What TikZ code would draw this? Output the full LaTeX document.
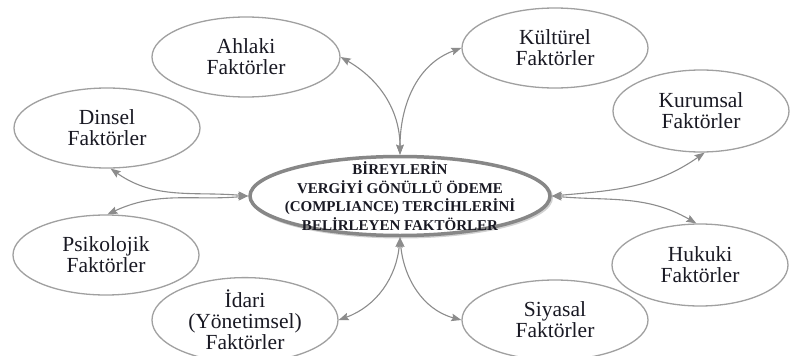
\documentclass[tikz,border=0pt]{standalone}
\usepackage{fontspec}
\setmainfont{Liberation Serif}
\usetikzlibrary{shapes.geometric,arrows.meta}
\definecolor{edgegray}{RGB}{160,160,160}
\definecolor{arrgray}{RGB}{140,140,140}
\definecolor{maingray}{RGB}{135,135,135}
\definecolor{txt}{RGB}{25,25,35}
\begin{document}
\begin{tikzpicture}[x=1pt,y=-1pt,
  factor/.style={ellipse, draw=edgegray, line width=1.3pt, fill=white, inner sep=0pt,
    align=center, text=txt, font=\fontsize{21.5}{21}\selectfont,
    minimum width=186pt, minimum height=80pt},
  mainnode/.style={ellipse, draw=maingray, line width=3.5pt, fill=white,
    inner xsep=-40pt, inner ysep=-10pt,
    align=center, text=txt, font=\bfseries\fontsize{15}{18.5}\selectfont,
    minimum width=300pt, minimum height=79pt},
  conn/.style={draw=arrgray, line width=1.1pt,
    {Stealth[length=10pt,width=7.5pt,inset=1.5pt]}-{Stealth[length=10pt,width=7.5pt,inset=1.5pt]}}
]
\useasboundingbox (0,0) rectangle (790,356);
\fill[white] (0,0) rectangle (790,356);

% shadow of main ellipse
\draw[gray!35, line width=3pt] (401.5,197.5) ellipse [x radius=150pt, y radius=39.5pt];
\node[mainnode] (main) at (400,196) {BİREYLERİN\\VERGİYİ GÖNÜLLÜ ÖDEME\\(COMPLIANCE) TERCİHLERİNİ\\BELİRLEYEN FAKTÖRLER};

\node[factor, minimum width=188pt] (ahlaki) at (246,57) {Ahlaki\\Faktörler};
\node[factor] (kulturel) at (555,48) {Kültürel\\Faktörler};
\node[factor] (dinsel) at (107,128) {Dinsel\\Faktörler};
\node[factor, minimum width=176pt, minimum height=82pt] (kurumsal) at (701,111) {Kurumsal\\Faktörler};
\node[factor] (psiko) at (106,255) {Psikolojik\\Faktörler};
\node[factor, minimum height=84pt] (idari) at (245,320) {İdari\\(Yönetimsel)\\Faktörler};
\node[factor] (siyasal) at (555,320) {Siyasal\\Faktörler};
\node[factor, minimum width=176pt, minimum height=82pt] (hukuki) at (700,265) {Hukuki\\Faktörler};

\draw[conn] (main.north) to[out=90, in=-30] (ahlaki.east);
\draw[conn] (main.north) to[out=90, in=200] (kulturel.west);
\draw[conn] (main.west) to[out=175, in=-35] (dinsel.-85);
\draw[conn] (main.west) to[out=185, in=25] (psiko.88);
\draw[conn] (main.south) to[out=-95, in=20] (idari.east);
\draw[conn] (main.south) to[out=-85, in=165] (siyasal.west);
\draw[conn] (main.east) to[out=5, in=-145] (kurumsal.-85);
\draw[conn] (main.east) to[out=-5, in=150] (hukuki.95);
\end{tikzpicture}
\end{document}
